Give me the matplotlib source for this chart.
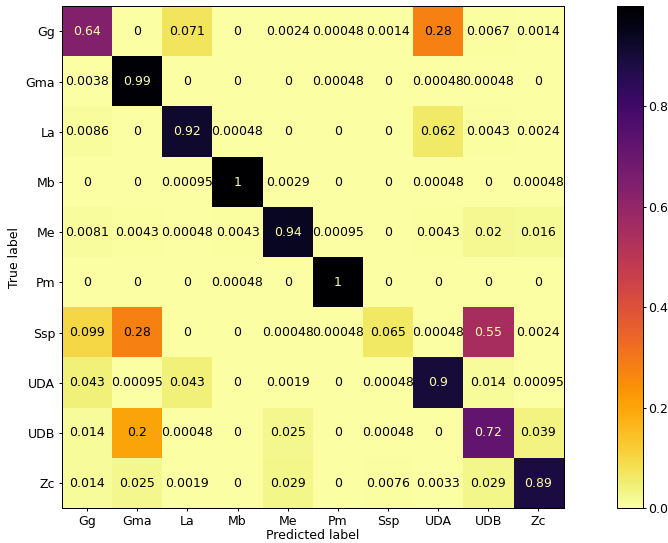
import numpy as np
import matplotlib
matplotlib.use("Agg")
import matplotlib.pyplot as plt

labels = ["Gg", "Gma", "La", "Mb", "Me", "Pm", "Ssp", "UDA", "UDB", "Zc"]

row_Gg  = [0.64, 0, 0.071, 0, 0.0024, 0.00048, 0.0014, 0.28, 0.0067, 0.0014]
row_Gma = [0.0038, 0.99, 0, 0, 0, 0.00048, 0, 0.00048, 0.00048, 0]
row_La  = [0.0086, 0, 0.92, 0.00048, 0, 0, 0, 0.062, 0.0043, 0.0024]
row_Mb  = [0, 0, 0.00095, 0.996, 0.0029, 0, 0, 0.00048, 0, 0.00048]
row_Me  = [0.0081, 0.0043, 0.00048, 0.0043, 0.94, 0.00095, 0, 0.0043, 0.02, 0.016]
row_Pm  = [0, 0, 0, 0.00048, 0, 0.9995, 0, 0, 0, 0]
row_Ssp = [0.099, 0.28, 0, 0, 0.00048, 0.00048, 0.065, 0.00048, 0.55, 0.0024]
row_UDA = [0.043, 0.00095, 0.043, 0, 0.0019, 0, 0.00048, 0.9, 0.014, 0.00095]
row_UDB = [0.014, 0.2, 0.00048, 0, 0.025, 0, 0.00048, 0, 0.72, 0.039]
row_Zc  = [0.014, 0.025, 0.0019, 0, 0.029, 0, 0.0076, 0.0033, 0.029, 0.89]

cm = np.array([row_Gg, row_Gma, row_La, row_Mb, row_Me, row_Pm,
               row_Ssp, row_UDA, row_UDB, row_Zc])

DPI = 90
W, H = 668, 543
fig = plt.figure(figsize=(W / DPI, H / DPI), dpi=DPI)
ax = fig.add_axes([62 / W, 1 - 508.3 / H, 501.5 / W, 502 / H])
cax = fig.add_axes([617 / W, 1 - 508.3 / H, 26 / W, 502 / H])

cmap = plt.get_cmap("inferno_r")
im = ax.imshow(cm, cmap=cmap, interpolation="nearest", aspect="auto",
               vmin=cm.min(), vmax=cm.max())
thresh = (cm.max() + cm.min()) / 2.0
cmin, cmax = cmap(0.0), cmap(1.0)
n = len(labels)
for i in range(n):
    for j in range(n):
        v = cm[i, j]
        color = cmax if v < thresh else cmin
        ax.text(j, i, format(v, ".2g"), ha="center", va="center",
                color=color, fontsize=10)

ax.set_xticks(range(n))
ax.set_yticks(range(n))
ax.set_xticklabels(labels)
ax.set_yticklabels(labels)
ax.tick_params(axis="both", length=2.5, pad=3)
ax.set_xlabel("Predicted label", labelpad=1)
ax.set_ylabel("True label")
ax.set_xlim(-0.5, n - 0.5)
ax.set_ylim(n - 0.5, -0.5)

cb = fig.colorbar(im, cax=cax)
cb.set_ticks([0.0, 0.2, 0.4, 0.6, 0.8])
cb.ax.tick_params(length=2, pad=2)

fig.savefig("out.png", dpi=DPI)
